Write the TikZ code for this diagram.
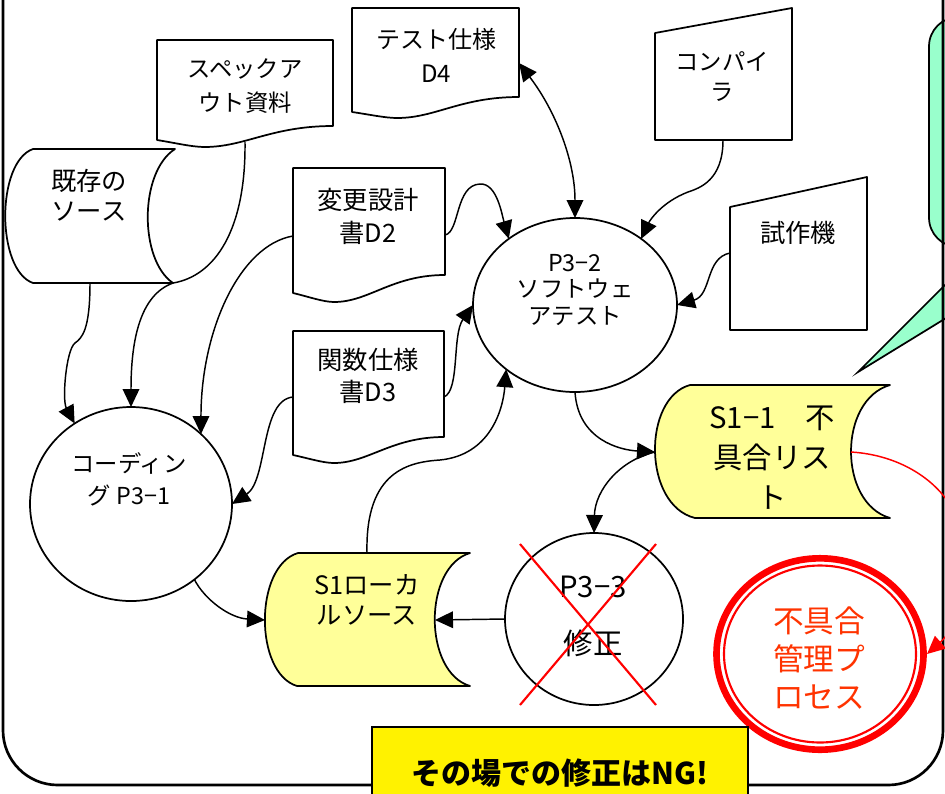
\documentclass[tikz,border=0pt]{standalone}
\usepackage{fontspec}
\setmainfont{Noto Sans CJK JP}
\usetikzlibrary{arrows.meta,shapes.geometric}
\definecolor{lyellow}{RGB}{255,255,153}
\definecolor{mint}{RGB}{153,255,204}
\definecolor{redtxt}{RGB}{255,51,0}
\newcommand{\docshape}[6]{%
 \draw[shp,fill=white] (#1,#2) -- (#3,#2) -- (#3,#5)
   .. controls ({#1+0.65*(#3-#1)},#5) and ({#1+0.5*(#3-#1)},{#4+#6}) .. ({#1+0.27*(#3-#1)},{#4+#6})
   .. controls ({#1+0.2*(#3-#1)},{#4+#6}) and ({#1+0.1*(#3-#1)},{#4+0.4*#6}) .. (#1,#4) -- cycle;}
\begin{document}
\begin{tikzpicture}[x=0.75pt,y=-0.75pt,
  shp/.style={draw=black,line width=1.3pt,line join=round},
  conn/.style={draw=black,line width=1.1pt,-{Triangle[length=13.5pt,width=12.5pt]}},
  biconn/.style={draw=black,line width=1.1pt,{Triangle[length=13.5pt,width=12.5pt]}-{Triangle[length=13.5pt,width=12.5pt]}},
  proc/.style={ellipse,draw=black,line width=1.3pt,fill=white,inner sep=0pt,outer sep=0pt},
  lbl/.style={align=center,inner sep=0pt}]
\useasboundingbox (0,0) rectangle (945,793);

% callout
\draw[line width=1.3pt,fill=mint,rounded corners=22pt] (929,17) rectangle (1150,247);
\draw[line width=1.3pt,fill=mint,line join=miter] (983,247) -- (858,372) -- (1062,247);

% frame
\draw[line width=2pt,rounded corners=41pt] (3,-100) rectangle (943,785);

% documents
\docshape{157}{40}{333}{140}{126}{7}
\docshape{352}{8}{519}{112}{97}{6}
\docshape{293}{168}{445}{293}{275}{9}
\docshape{293}{331}{444}{455}{437}{8}

% manual inputs
\draw[shp,fill=white] (655,33) -- (792,8) -- (792,140) -- (655,140) -- cycle;
\draw[shp,fill=white] (730,207) -- (867,177) -- (867,330) -- (730,330) -- cycle;

% stored data
\draw[shp,fill=white] (33,149) -- (175,149) .. controls (139,172) and (139,260) .. (173,283) -- (33,283) .. controls (-4,270) and (-4,162) .. (33,149) -- cycle;
\draw[shp,fill=lyellow] (690,385) -- (890,385) .. controls (838,400) and (838,503) .. (890,518) -- (695,518) .. controls (642.5,505) and (642.5,398) .. (690,385) -- cycle;
\draw[shp,fill=lyellow] (298,553) -- (470,553) .. controls (423,567) and (423,672) .. (470,686) -- (297,686) .. controls (254,673) and (254,566) .. (298,553) -- cycle;

% processes
\node[proc,minimum width=151.5pt,minimum height=145.5pt] (coding) at (131,504) {};
\node[proc,minimum width=153pt,minimum height=130.5pt] (test) at (575,305) {};
\node[proc,minimum width=133.5pt,minimum height=129pt] (fix) at (594,619) {};
\node[ellipse,inner sep=0pt,outer sep=0pt,minimum width=160.5pt,minimum height=148.5pt] (mgmt) at (820,654) {};
\draw[red,line width=5pt] (mgmt.center) ellipse [x radius=103.5, y radius=95.7];
\draw[red,line width=1.6pt] (mgmt.center) ellipse [x radius=96, y radius=88.5];

% labels
\node[lbl,font=\fontsize{17.5}{25.5}\selectfont] (specT) at (245,86) {スペックア\\ウト資料};
\node[lbl,font=\fontsize{19}{22.5}\selectfont] (kizonT) at (89,195) {既存の\\ソース};
\node[lbl,font=\fontsize{18}{25.5}\selectfont] (d4T) at (436,55) {テスト仕様\\D4};
\node[lbl,font=\fontsize{19}{24.75}\selectfont] (d2T) at (368,216.5) {変更設計\\書D2};
\node[lbl,font=\fontsize{19}{24}\selectfont] (d3T) at (368,376) {関数仕様\\書D3};
\node[lbl,font=\fontsize{17.5}{22.5}\selectfont] (compT) at (722,77) {コンパイ\\ラ};
\node[lbl,font=\fontsize{19}{22.5}\selectfont] (protoT) at (798,233) {試作機};
\node[lbl,font=\fontsize{17.5}{20}\selectfont] (testT) at (575,290) {P3−2\\ソフトウェ\\アテスト};
\node[lbl,font=\fontsize{17.5}{24}\selectfont] (codingT) at (129,479) {コーディン\\グ P3−1};
\node[lbl,font=\fontsize{22}{30}\selectfont] (bugT) at (772,458) {S1−1　不\\具合リス\\ト};
\node[lbl,font=\fontsize{19}{22.5}\selectfont] (localT) at (367,600) {S1ローカ\\ルソース};
\node[lbl,font=\fontsize{22}{42.75}\selectfont] (fixT) at (593,616) {P3−3\\修正};
\node[lbl,font=\fontsize{23}{28.5}\selectfont,text=redtxt] (mgmtT) at (819,658) {不具合\\管理プ\\ロセス};

% connection points
\coordinate (specB) at (245,142);
\coordinate (kizonB) at (90,283);
\coordinate (d2W) at (293,236);
\coordinate (d2E) at (445,235);
\coordinate (d3W) at (293,397);
\coordinate (d3E) at (444,397);
\coordinate (d4E) at (519,63);
\coordinate (compB) at (723,140);
\coordinate (protoW) at (730,253);
\coordinate (bugW) at (655,452);
\coordinate (bugE) at (851,452);
\coordinate (localW) at (265,620);
\coordinate (localE) at (435,620);
\coordinate (localN) at (367,553);

% connectors
\draw[conn] (specB) .. controls (246,230) and (215,276) .. (173,283) .. controls (140,295) and (131,340) .. (coding.north);
\draw[conn] (kizonB) .. controls (90,330) and (82,338) .. (75,343) .. controls (66,350) and (62,400) .. (coding.125);
\draw[conn] (d2W) .. controls (240,245) and (201,330) .. (coding.45);
\draw[conn] (d3W) .. controls (260,400) and (268,480) .. (coding.east);
\draw[conn] (coding.-50) .. controls (205,600) and (230,618) .. (localW);
\draw[conn] (localN) .. controls (365,470) and (410,462) .. (440,460) .. controls (490,455) and (503,410) .. (test.-137);
\draw[conn] (d3E) .. controls (460,390) and (452,335) .. (test.west);
\draw[conn] (d2E) .. controls (460,232) and (455,185) .. (480,184) .. controls (497,183) and (502,215) .. (test.135);
\draw[biconn] (d4E) .. controls (555,110) and (575,160) .. (test.north);
\draw[conn] (compB) .. controls (723,180) and (700,188) .. (688,192) .. controls (662,202) and (650,220) .. (test.45);
\draw[conn] (protoW) .. controls (705,258) and (712,295) .. (test.east);
\draw[conn] (test.south) .. controls (578,440) and (620,450) .. (bugW);
\draw[conn] (bugW) .. controls (620,460) and (595,490) .. (fix.north);
\draw[conn] (fix.west) -- (localE);
\draw[red,line width=1.1pt,-{Triangle[length=13.5pt,width=12.5pt]}] (bugE) .. controls (900,455) and (935,480) .. (950,505) .. controls (975,560) and (960,625) .. (mgmt.east);

% red cross
\draw[red,line width=1.6pt] (520,544) -- (656,705) (656,544) -- (520,705);

% NG box
\draw[line width=1.3pt,fill=yellow] (372,727) rectangle (748,820);
\node[lbl,font=\fontsize{22.5}{27}\selectfont\bfseries] (ngT) at (560,773) {その場での修正はNG!};
\end{tikzpicture}
\end{document}
